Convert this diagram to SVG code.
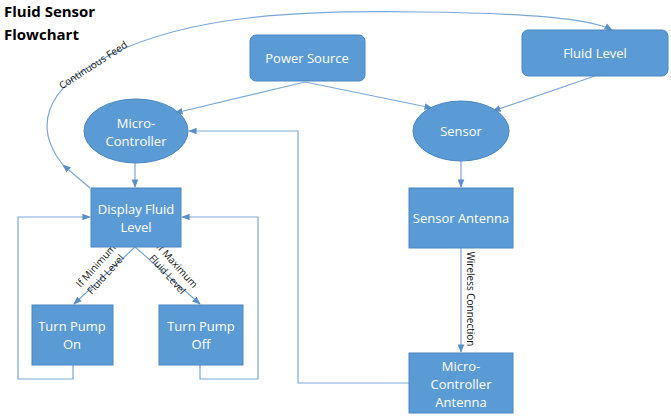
<svg xmlns="http://www.w3.org/2000/svg" width="671" height="418" viewBox="0 0 671 418">
<style>
.n{fill:#5b9bd5;stroke:#4a86c0;stroke-width:1}
.t{font-family:"Open Sans","Liberation Sans",sans-serif;font-size:13px;fill:#fff;text-anchor:middle}
.l{font-family:"Open Sans","Liberation Sans",sans-serif;font-size:10px;fill:#111;text-anchor:middle}
.c{fill:none;stroke:#7aa7d8;stroke-width:1.2}
</style>
<defs><marker id="a" viewBox="0 0 10 10" refX="9" refY="5" markerWidth="7" markerHeight="7" orient="auto"><path d="M0,1 L10,5 L0,9z" fill="#5b8fc8"/></marker></defs>
<rect width="671" height="418" fill="#fff"/>
<text x="4" y="17" font-family="'Open Sans','Liberation Sans',sans-serif" font-size="15" font-weight="bold">Fluid Sensor</text>
<text x="4" y="40" font-family="'Open Sans','Liberation Sans',sans-serif" font-size="15" font-weight="bold">Flowchart</text>
<g id="connectors">
<path class="c" d="M305,82 L175,113" marker-end="url(#a)"/>
<path class="c" d="M305,82 L432,108" marker-end="url(#a)"/>
<path class="c" d="M595,76 L493,111" marker-end="url(#a)"/>
<path class="c" d="M461,161 L461,187" marker-end="url(#a)"/>
<path class="c" d="M461,248 L461,352" marker-end="url(#a)"/>
<path class="c" d="M135,163 L135,187" marker-end="url(#a)"/>
<path class="c" d="M135,247 L74,304" marker-end="url(#a)"/>
<path class="c" d="M135,247 L200,304" marker-end="url(#a)"/>
<path class="c" d="M409,383 L298,383 L298,131 L189,131" marker-end="url(#a)"/>
<path class="c" d="M73,365 L73,379 L18,379 L18,217 L90,217" marker-end="url(#a)"/>
<path class="c" d="M200,365 L200,379 L258,379 L258,217 L182,217" marker-end="url(#a)"/>
<path class="c" d="M90,188 L63,165" marker-end="url(#a)"/>
<path class="c" d="M63,165 C35,130 40,90 110,55 C190,15 300,10 420,12 C520,13 590,18 612,30" marker-end="url(#a)"/>
<text class="l" transform="translate(95,68) rotate(-33)">Continuous Feed</text>
<text class="l" transform="translate(103,272) rotate(-48)"><tspan x="0" y="-6">If Minimum</tspan><tspan x="0" y="7">Fluid Level</tspan></text>
<text class="l" transform="translate(170,272) rotate(48)"><tspan x="0" y="-6">If Maximum</tspan><tspan x="0" y="7">Fluid Level</tspan></text>
<text class="l" transform="translate(467,299) rotate(90)">Wireless Connection</text>
</g>
<g id="power"><rect class="n" x="250" y="35" width="115" height="46" rx="6"/><text class="t" x="307" y="63">Power Source</text></g>
<g id="fluidlevel"><rect class="n" x="522" y="30" width="146" height="46" rx="6"/><text class="t" x="595" y="58">Fluid Level</text></g>
<g id="mc"><ellipse class="n" cx="136" cy="131" rx="52" ry="32"/><text class="t" x="136" y="128">Micro-</text><text class="t" x="136" y="146">Controller</text></g>
<g id="sensor"><ellipse class="n" cx="461" cy="131" rx="48" ry="30"/><text class="t" x="461" y="136">Sensor</text></g>
<g id="display"><rect class="n" x="91" y="188" width="90" height="59"/><text class="t" x="136" y="214">Display Fluid</text><text class="t" x="136" y="232">Level</text></g>
<g id="pumpon"><rect class="n" x="32" y="305" width="81" height="60"/><text class="t" x="72" y="331">Turn Pump</text><text class="t" x="72" y="349">On</text></g>
<g id="pumpoff"><rect class="n" x="159" y="305" width="84" height="60"/><text class="t" x="201" y="331">Turn Pump</text><text class="t" x="201" y="349">Off</text></g>
<g id="santenna"><rect class="n" x="409" y="188" width="104" height="60"/><text class="t" x="461" y="223">Sensor Antenna</text></g>
<g id="mcantenna"><rect class="n" x="409" y="353" width="104" height="60"/><text class="t" x="461" y="371">Micro-</text><text class="t" x="461" y="389">Controller</text><text class="t" x="461" y="407">Antenna</text></g>
</svg>
